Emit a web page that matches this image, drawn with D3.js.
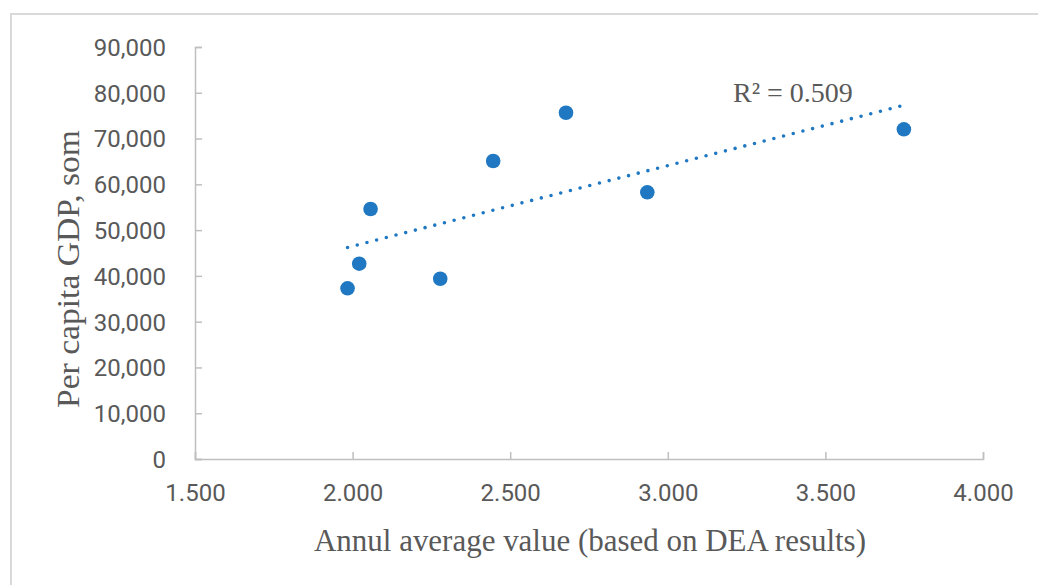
<!DOCTYPE html>
<head>
<meta charset="utf-8">
<script src="https://d3js.org/d3.v7.min.js"></script>
<style>
  body { margin: 0; background: #fff; }
  svg { display: block; }
</style>
</head>
<body>
<div id="chart"></div>
<script>

// data
const effValues = [1.984, 2.021, 2.057, 2.278, 2.446, 2.677, 2.935, 3.749];
const gdpValues = [37290, 42660, 54610, 39380, 65090, 75640, 58260, 72020];
const xTicks = [1.5, 2.0, 2.5, 3.0, 3.5, 4.0];
const yTicks = [0, 10000, 20000, 30000, 40000, 50000, 60000, 70000, 80000, 90000];
const xTitle = "Annul average value (based on DEA results)";
const yTitle = "Per capita GDP, som";
const r2Label = "R\u00b2 = 0.509";

const width = 1038, height = 585;
const blue = "#1f78c1", grey = "#595959", axisGrey = "#bfbfbf";

const svg = d3.select("#chart").append("svg")
    .attr("width", width)
    .attr("height", height);

// outer frame (only top and left edges are visible)
svg.append("path")
    .attr("d", "M11,585 V14 H1038")
    .attr("fill", "none")
    .attr("stroke", "#d9d9d9")
    .attr("stroke-width", 2);

const x = d3.scaleLinear().domain([1.5, 4]).range([195, 983]);
const y = d3.scaleLinear().domain([0, 90000]).range([459, 47]);

// axes with inside ticks
const xAxis = svg.append("g")
    .attr("transform", "translate(0," + y(0) + ")")
    .call(d3.axisBottom(x).tickValues(xTicks).tickSize(-7).tickPadding(22)
        .tickFormat(d3.format(".3f")));

const yAxis = svg.append("g")
    .attr("transform", "translate(" + x(1.5) + ",0)")
    .call(d3.axisLeft(y).tickValues(yTicks).tickSize(-7).tickPadding(32)
        .tickFormat(d => d === 0 ? "0" : d3.format(",")(d)));

[xAxis, yAxis].forEach(a => {
  a.selectAll("path, line").attr("stroke", axisGrey).attr("stroke-width", 1.5);
  a.selectAll("text")
      .attr("fill", grey)
      .style("font-family", "Roboto, 'Open Sans', sans-serif")
      .style("font-size", "24px");
});
// ticks in the picture point inward; labels sit outside
xAxis.selectAll(".tick text").attr("dy", "0.71em").attr("y", 25);
yAxis.selectAll(".tick text").attr("x", -29).attr("dy", "0.35em");

// linear trend line from the points
const mx = d3.mean(effValues), my = d3.mean(gdpValues);
let sxy = 0, sxx = 0;
effValues.forEach((v, i) => {
  sxy += (v - mx) * (gdpValues[i] - my);
  sxx += (v - mx) * (v - mx);
});
const slope = sxy / sxx, icpt = my - slope * mx;
const x0 = d3.min(effValues), x1 = d3.max(effValues);

svg.append("line")
    .attr("x1", x(x0)).attr("y1", y(icpt + slope * x0))
    .attr("x2", x(x1)).attr("y2", y(icpt + slope * x1))
    .attr("stroke", blue)
    .attr("stroke-width", 3.6)
    .attr("stroke-linecap", "round")
    .attr("stroke-dasharray", "0 10");

// points
svg.selectAll("circle.pt")
    .data(effValues.map((v, i) => [v, gdpValues[i]]))
    .enter().append("circle")
    .attr("class", "pt")
    .attr("cx", d => x(d[0]))
    .attr("cy", d => y(d[1]))
    .attr("r", 7.3)
    .attr("fill", blue);

// R squared label
svg.append("text")
    .attr("x", 733).attr("y", 102)
    .attr("fill", grey)
    .style("font-family", "'Liberation Serif', 'Times New Roman', serif")
    .style("font-size", "28px")
    .text(r2Label);

// axis titles
svg.append("text")
    .attr("x", 590).attr("y", 551)
    .attr("text-anchor", "middle")
    .attr("fill", grey)
    .attr("textLength", 552)
    .attr("lengthAdjust", "spacingAndGlyphs")
    .style("font-family", "'Liberation Serif', 'Times New Roman', serif")
    .style("font-size", "31px")
    .text(xTitle);

svg.append("text")
    .attr("transform", "translate(79,269) rotate(-90)")
    .attr("text-anchor", "middle")
    .attr("fill", grey)
    .attr("textLength", 278)
    .attr("lengthAdjust", "spacingAndGlyphs")
    .style("font-family", "'Liberation Serif', 'Times New Roman', serif")
    .style("font-size", "31px")
    .text(yTitle);

</script>
</body>
